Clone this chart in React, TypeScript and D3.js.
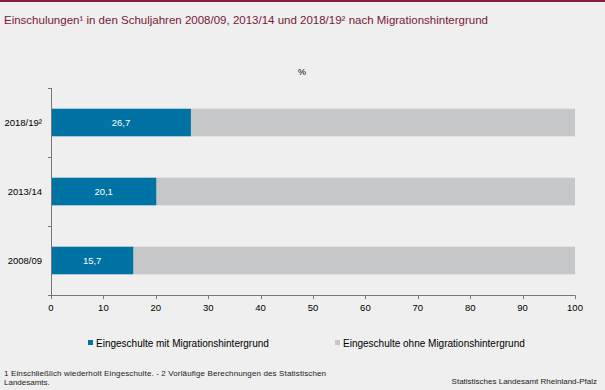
import React from "react";
import * as d3 from "d3";

const categories = ["2018/19²", "2013/14", "2008/09"];
const withMigration = [26.7, 20.1, 15.7];
const withoutMigration = [73.3, 79.9, 84.3];
const xTicks = [0, 10, 20, 30, 40, 50, 60, 70, 80, 90, 100];
const seriesNames = ["Eingeschulte mit Migrationshintergrund", "Eingeschulte ohne Migrationshintergrund"];
const labels = ["26,7", "20,1", "15,7"];

export default function App() {
  const W = 605, H = 390;
  const x = d3.scaleLinear().domain([0, 100]).range([51, 575]);
  const y = d3.scaleBand().domain(categories).range([88, 295]).paddingInner(0.6).paddingOuter(0.3);
  const yb = d3.scaleBand().domain(categories).range([88, 295]);
  const font = "'Liberation Sans', Arial, sans-serif";
  const blue = "#0072a3";
  const gray = "#c6c7c8";
  return (
    <svg width={W} height={H} style={{ position: "absolute", left: 0, top: 0, display: "block" }} fontFamily={font}>
      <rect x={0} y={0} width={W} height={H} fill="#eeefee" />
      <rect x={0} y={0} width={W} height={2} fill="#8b1a3a" />
      <text x={4} y={24} fontSize={11.5} fill="#7a1838">
        Einschulungen¹ in den Schuljahren 2008/09, 2013/14 und 2018/19² nach Migrationshintergrund
      </text>
      <text x={302} y={75} fontSize={9} textAnchor="middle" fill="#000">%</text>
      {categories.map((c, i) => {
        const by = y(c)!;
        const bh = y.bandwidth();
        const x0 = x(0), x1 = x(withMigration[i]), x2 = x(withMigration[i] + withoutMigration[i]);
        return (
          <g key={c}>
            <rect x={x1} y={by} width={x2 - x1} height={bh} fill={gray} />
            <rect x={x0} y={by} width={x1 - x0} height={bh} fill={blue} />
            <text x={(x0 + x1) / 2} y={by + bh / 2 + 3.5} fontSize={9.5} fill="#fff" textAnchor="middle">{labels[i]}</text>
            <text x={42} y={by + bh / 2 + 3.5} fontSize={9.5} fill="#000" textAnchor="end">{c}</text>
          </g>
        );
      })}
      {/* y axis */}
      <line x1={51.5} x2={51.5} y1={88} y2={295} stroke="#777" strokeWidth={1} />
      {[0, 1, 2, 3].map((k) => {
        const yy = Math.round(88 + k * yb.bandwidth()) + 0.5;
        return <line key={k} x1={48} x2={51.5} y1={yy} y2={yy} stroke="#777" />;
      })}
      {/* x axis */}
      <line x1={51} x2={575.5} y1={295.5} y2={295.5} stroke="#777" />
      {xTicks.map((t) => (
        <g key={t}>
          <line x1={Math.round(x(t)) + 0.5} x2={Math.round(x(t)) + 0.5} y1={295.5} y2={299} stroke="#777" />
          <text x={x(t)} y={311} fontSize={9.5} textAnchor="middle" fill="#000">{t}</text>
        </g>
      ))}
      {/* legend */}
      <rect x={88} y={340} width={5} height={5} fill={blue} />
      <text x={96} y={346.5} fontSize={10} fill="#000">{seriesNames[0]}</text>
      <rect x={335} y={340} width={5} height={5} fill={gray} />
      <text x={343} y={346.5} fontSize={10} fill="#000">{seriesNames[1]}</text>
      {/* footnotes */}
      <text x={4} y={376} fontSize={8} fill="#222" textLength={322} lengthAdjust="spacing">1 Einschließlich wiederholt Eingeschulte. - 2 Vorläufige Berechnungen des Statistischen</text>
      <text x={4} y={385} fontSize={8} fill="#222">Landesamts.</text>
      <text x={597} y={384} fontSize={8} fill="#222" textAnchor="end">Statistisches Landesamt Rheinland-Pfalz</text>
    </svg>
  );
}
